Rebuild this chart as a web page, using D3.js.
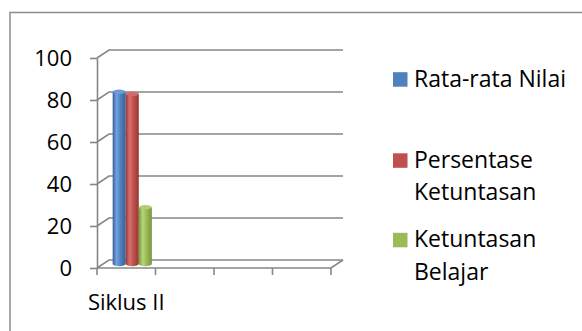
<!DOCTYPE html>
<html>
<head>
<meta charset="utf-8">
<script src="https://cdn.jsdelivr.net/npm/d3@7/dist/d3.min.js"></script>
<style>
  html, body { margin: 0; padding: 0; background: #fff; }
  svg { display: block; font-family: "Open Sans", sans-serif; }
</style>
</head>
<body>
<svg id="chart" width="582" height="331"></svg>
<script>
// ---- data ----
const categories = ["Siklus II", " ", "  ", "   "];
const seriesNames = ["Rata-rata Nilai", "Persentase Ketuntasan", "Ketuntasan Belajar"];
const rataRataNilai = [82, null, null, null];
const persentaseKetuntasan = [81, null, null, null];
const ketuntasanBelajar = [27, null, null, null];
const yTicks = [0, 20, 40, 60, 80, 100];
const legendLines = [["Rata-rata Nilai"], ["Persentase", "Ketuntasan"], ["Ketuntasan", "Belajar"]];

const seriesValues = [rataRataNilai, persentaseKetuntasan, ketuntasanBelajar];
const colors = [
  {base: "#4F81BD", light: "#73a2e0", dark: "#35609a", top: "#6e9bd6"},
  {base: "#C0504D", light: "#d8716d", dark: "#953733", top: "#d46b68"},
  {base: "#9BBB59", light: "#b7d677", dark: "#76953a", top: "#b0cf70"}
];

const svg = d3.select("#chart");
const gridColor = "#878787";

// outer border
svg.append("rect")
  .attr("x", 10).attr("y", 12.5).attr("width", 620).attr("height", 400)
  .attr("fill", "none").attr("stroke", "#8c8c8c").attr("stroke-width", 1.5);

// scales
const y = d3.scaleLinear().domain([0, 100]).range([268, 58]);
const x = d3.scaleBand().domain(categories).range([97, 331]);
const dx = 12, dy = -8;

// gradients
const defs = svg.append("defs");
colors.forEach((c, i) => {
  const g = defs.append("linearGradient").attr("id", "cyl" + i)
    .attr("x1", "0%").attr("x2", "100%").attr("y1", "0%").attr("y2", "0%");
  g.append("stop").attr("offset", "0%").attr("stop-color", c.dark);
  g.append("stop").attr("offset", "30%").attr("stop-color", c.light);
  g.append("stop").attr("offset", "60%").attr("stop-color", c.base);
  g.append("stop").attr("offset", "100%").attr("stop-color", c.dark);
});

// gridlines (side wall diagonal + back wall)
const x0 = x.range()[0], x1 = x.range()[1];
const grid = svg.append("g").attr("fill", "none").attr("stroke", gridColor).attr("stroke-width", 1.6);
yTicks.forEach(t => {
  grid.append("path")
    .attr("d", `M${x0},${y(t)} L${x0 + dx},${y(t) + dy} L${x1 + dx},${y(t) + dy}`);
});
// floor front edge and right edge
grid.append("path")
  .attr("d", `M${x0},${y(0)} L${x1},${y(0)} L${x1 + dx},${y(0) + dy}`);

// left axis
const yAxis = svg.append("g").attr("transform", `translate(${x0},0)`)
  .call(d3.axisLeft(y).tickValues(yTicks).tickSize(7).tickPadding(18).tickSizeOuter(0));
yAxis.select(".domain").attr("stroke", gridColor).attr("stroke-width", 1.6);
yAxis.selectAll(".tick line").attr("stroke", gridColor).attr("stroke-width", 1.6);
yAxis.selectAll(".tick text").attr("font-size", 22).attr("font-family", "Open Sans")
  .attr("fill", "#000").attr("dy", "0.35em");

// bottom axis ticks at band boundaries
const boundaries = categories.map(c => x(c)).concat([x1]);
svg.append("g").selectAll("line").data(boundaries).join("line")
  .attr("x1", d => d).attr("x2", d => d)
  .attr("y1", y(0)).attr("y2", y(0) + 7)
  .attr("stroke", gridColor).attr("stroke-width", 1.6);
svg.append("g").selectAll("text").data(categories).join("text")
  .attr("x", d => x(d) + x.bandwidth() / 2)
  .attr("y", 310)
  .attr("text-anchor", "middle")
  .attr("font-size", 22).attr("fill", "#000")
  .text(d => d.trim());

// cylinders at mid depth
const groupW = x.bandwidth() * 0.67;
const inner = d3.scaleBand().domain(seriesNames).range([0, groupW]);
const mdx = dx / 2, mdy = dy / 2;
const ry = 2.2;
const bars = svg.append("g");
categories.forEach((cat, ci) => {
  seriesValues.forEach((vals, si) => {
    const v = vals[ci];
    if (v == null) return;
    const left = x(cat) + (x.bandwidth() - groupW) / 2 + inner(seriesNames[si]) + mdx;
    const w = inner.bandwidth();
    const yTop = y(v) + mdy;
    const yBase = y(0) + mdy;
    const cx = left + w / 2;
    bars.append("path")
      .attr("d", `M${left},${yTop} L${left},${yBase} A${w / 2},${ry} 0 0 0 ${left + w},${yBase} L${left + w},${yTop} Z`)
      .attr("fill", `url(#cyl${si})`);
    bars.append("ellipse")
      .attr("cx", cx).attr("cy", yTop).attr("rx", w / 2).attr("ry", ry)
      .attr("fill", colors[si].top);
  });
});

// legend
const legendY = [86.7, 167.8, 247.3];
const legend = svg.append("g");
legendLines.forEach((lines, i) => {
  legend.append("rect")
    .attr("x", 393).attr("y", legendY[i] - 14.5).attr("width", 14.5).attr("height", 14.5)
    .attr("fill", colors[i].base);
  lines.forEach((ln, j) => {
    legend.append("text")
      .attr("x", 414).attr("y", legendY[i] + j * 32.5)
      .attr("font-size", 23).attr("fill", "#000")
      .text(ln);
  });
});
</script>
</body>
</html>
